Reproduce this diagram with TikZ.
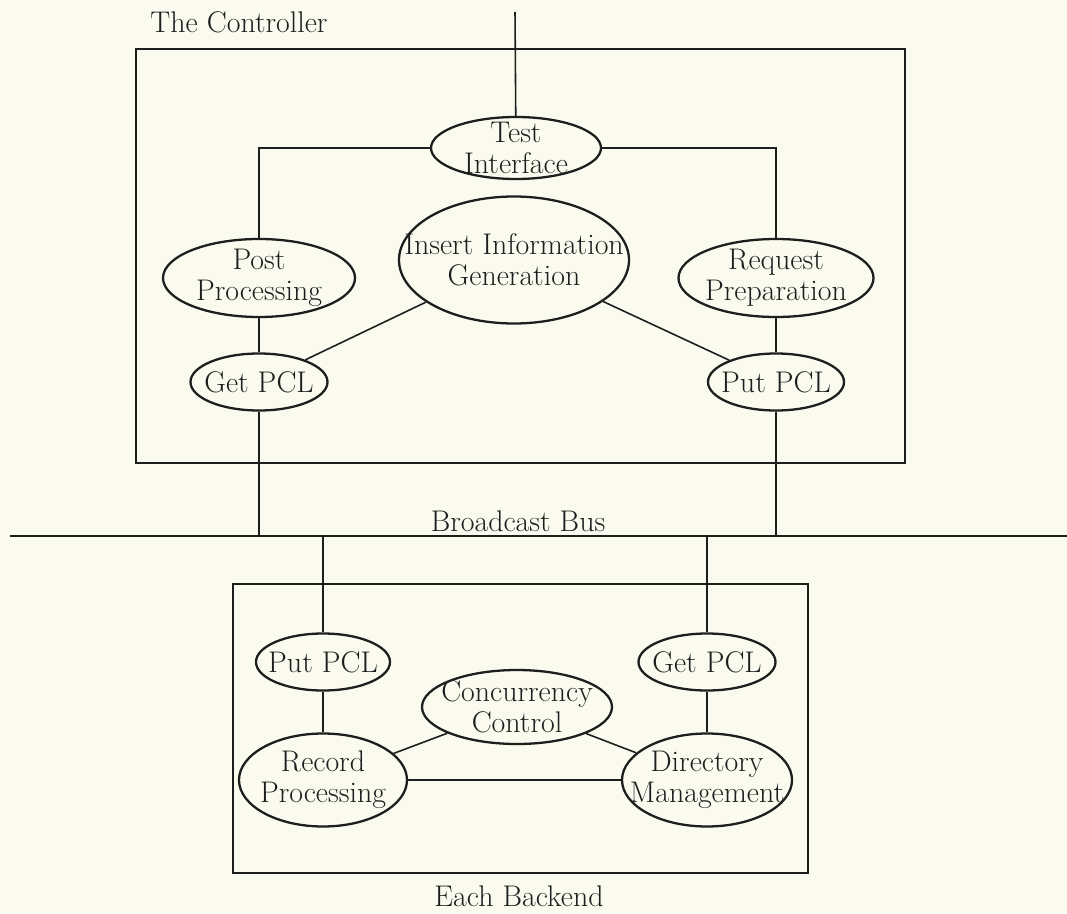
\documentclass[tikz,border=0pt]{standalone}
\usepackage{xcolor}
\usepackage{tikz}
\usetikzlibrary{shapes.geometric}
\definecolor{paper}{RGB}{250,250,238}
\definecolor{ink}{RGB}{30,30,30}
\newcommand{\diagfont}{\fontsize{17}{17.6}\selectfont}

\begin{document}
\begin{tikzpicture}[
    proc/.style={ellipse, draw=ink, line width=1.3pt, align=center, inner xsep=-0.6cm, inner ysep=-0.3cm, font=\diagfont, text=ink},
    wire/.style={draw=ink, line width=0.9pt},
    frame/.style={draw=ink, line width=0.8pt},
    caption/.style={font=\diagfont, text=ink}]
    % Paper
    \fill[paper] (0,0) rectangle (21.34,18.26);
    \useasboundingbox (0,0) rectangle (21.34,18.26);

    % The controller
    \node[caption] (ctrllabel) at (4.78,17.82) {The Controller};
    \draw[frame] (2.72,9.0) rectangle (18.1,17.28);
    \coordinate (top) at (10.3,18.02);
    \node[proc, minimum width=3.4cm, minimum height=1.24cm] (ti) at (10.32,15.3) {Test\\Interface};
    \node[proc, minimum width=3.84cm, minimum height=1.56cm] (pp) at (5.18,12.7) {Post\\Processing};
    \node[proc, minimum width=4.6cm, minimum height=2.54cm] (iig) at (10.28,13.06) {Insert Information\\Generation};
    \node[proc, minimum width=3.9cm, minimum height=1.56cm] (rp) at (15.52,12.7) {Request\\Preparation};
    \node[proc, minimum width=2.74cm, minimum height=1.14cm] (gpc) at (5.18,10.62) {Get PCL};
    \node[proc, minimum width=2.72cm, minimum height=1.14cm] (ppc) at (15.52,10.62) {Put PCL};

    \draw[wire] (top) -- (ti);
    \draw[wire] (ti.west) -| (pp.north);
    \draw[wire] (ti.east) -| (rp.north);
    \draw[wire] (pp) -- (gpc);
    \draw[wire] (rp) -- (ppc);
    \draw[wire] (iig) -- (gpc);
    \draw[wire] (iig) -- (ppc);

    % Broadcast bus
    \coordinate (busL) at (0.2,7.54);
    \coordinate (busR) at (21.34,7.54);
    \draw[draw=ink, line width=1.6pt] (busL) -- (busR);
    \node[caption, above] (buslabel) at (10.36,7.5) {Broadcast Bus};
    \draw[wire] (gpc) -- (gpc |- busL);
    \draw[wire] (ppc) -- (ppc |- busL);

    % Each backend
    \draw[frame] (4.66,0.8) rectangle (16.16,6.58);
    \node[proc, minimum width=2.68cm, minimum height=1.14cm] (bput) at (6.46,5.02) {Put PCL};
    \node[proc, minimum width=2.74cm, minimum height=1.14cm] (bget) at (14.14,5.02) {Get PCL};
    \node[proc, minimum width=3.8cm, minimum height=1.48cm] (cc) at (10.34,4.12) {Concurrency\\Control};
    \node[proc, minimum width=3.36cm, minimum height=1.86cm] (rec) at (6.46,2.66) {Record\\Processing};
    \node[proc, minimum width=3.4cm, minimum height=1.86cm] (dir) at (14.14,2.66) {Directory\\Management};
    \node[caption] (belabel) at (10.38,0.34) {Each Backend};

    \draw[wire] (bput |- busL) -- (bput);
    \draw[wire] (bget |- busL) -- (bget);
    \draw[wire] (bput) -- (rec);
    \draw[wire] (bget) -- (dir);
    \draw[wire] (cc) -- (rec);
    \draw[wire] (cc) -- (dir);
    \draw[wire] (rec) -- (dir);
\end{tikzpicture}
\end{document}
